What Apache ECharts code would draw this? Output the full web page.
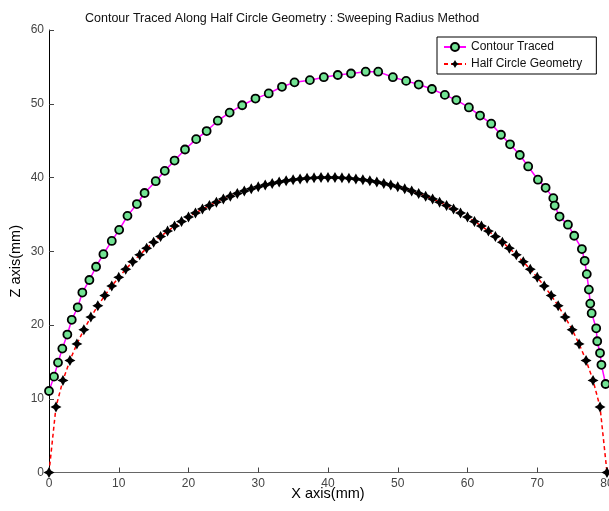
<!DOCTYPE html>
<html>
<head>
<meta charset="utf-8">
<title>Contour Traced</title>
<script src="https://cdn.jsdelivr.net/npm/echarts@6/dist/echarts.min.js"></script>
<style>
    html, body { margin: 0; padding: 0; background: #fff; }
    #main { width: 609px; height: 511px; }
</style>
</head>
<body>
<div id="main"></div>
<script>
// contour traced points (x, z)
var contourX = [0.0, 0.72, 1.29, 1.91, 2.63, 3.26, 4.12, 4.78, 5.79, 6.75, 7.8, 9.0, 10.06,
    11.25, 12.6, 13.7, 15.3, 16.6, 18.0, 19.5, 21.1, 22.6, 24.2, 25.9, 27.7, 29.6, 31.5,
    33.4, 35.2, 37.4, 39.4, 41.4, 43.3, 45.4, 47.2, 49.3, 51.2, 53.0, 54.9, 56.75, 58.4,
    60.2, 61.8, 63.4, 64.8, 66.1, 67.5, 68.7, 70.1, 71.2, 72.3, 72.5, 73.2, 74.4, 75.3,
    76.4, 76.8, 77.1, 77.4, 77.6, 77.8, 78.45, 78.6, 79.0, 79.2, 79.8];
var contourZ = [11.05, 13.0, 14.9, 16.8, 18.7, 20.7, 22.4, 24.4, 26.1, 27.9, 29.6, 31.4, 32.9,
    34.8, 36.4, 37.9, 39.5, 40.9, 42.3, 43.8, 45.2, 46.3, 47.7, 48.8, 49.8, 50.7, 51.4,
    52.3, 52.9, 53.2, 53.6, 53.9, 54.1, 54.35, 54.35, 53.6, 53.1, 52.6, 52.0, 51.2, 50.5,
    49.5, 48.4, 47.3, 45.8, 44.5, 43.05, 41.5, 39.7, 38.6, 37.2, 36.2, 34.7, 33.6, 32.1,
    30.3, 28.7, 26.9, 24.8, 22.9, 21.6, 19.55, 17.8, 16.2, 14.6, 12.0];

// half circle geometry, one point per mm of x
var circleX = [0, 1, 2, 3, 4, 5, 6, 7, 8, 9, 10, 11, 12, 13, 14, 15, 16, 17, 18, 19, 20,
    21, 22, 23, 24, 25, 26, 27, 28, 29, 30, 31, 32, 33, 34, 35, 36, 37, 38, 39, 40,
    41, 42, 43, 44, 45, 46, 47, 48, 49, 50, 51, 52, 53, 54, 55, 56, 57, 58, 59, 60,
    61, 62, 63, 64, 65, 66, 67, 68, 69, 70, 71, 72, 73, 74, 75, 76, 77, 78, 79, 80];
var circleZ = [0, 8.89, 12.49, 15.2, 17.44, 19.36, 21.07, 22.61, 24.0, 25.28, 26.46,
    27.55, 28.57, 29.51, 30.4, 31.22, 32.0, 32.73, 33.41, 34.04, 34.64,
    35.2, 35.72, 36.21, 36.66, 37.08, 37.47, 37.83, 38.16, 38.46, 38.73,
    38.97, 39.19, 39.38, 39.55, 39.69, 39.8, 39.89, 39.95, 39.99, 40.0,
    39.99, 39.95, 39.89, 39.8, 39.69, 39.55, 39.38, 39.19, 38.97, 38.73,
    38.46, 38.16, 37.83, 37.47, 37.08, 36.66, 36.21, 35.72, 35.2, 34.64,
    34.04, 33.41, 32.73, 32.0, 31.22, 30.4, 29.51, 28.57, 27.55, 26.46,
    25.28, 24.0, 22.61, 21.07, 19.36, 17.44, 15.2, 12.49, 8.89, 0];

var seriesNames = ['Contour Traced', 'Half Circle Geometry'];

function pairs(xs, ys) {
    var out = [];
    for (var i = 0; i < xs.length; i++) out.push([xs[i], ys[i]]);
    return out;
}

var starPath = 'path://M0,-10 L3.6,-3.6 L10,0 L3.6,3.6 L0,10 L-3.6,3.6 L-10,0 L-3.6,-3.6 Z';
var font = 'Liberation Sans, Arial, sans-serif';

var myChart = echarts.init(document.getElementById('main'));

var option = {
    animation: false,
    backgroundColor: '#fff',
    title: {
        text: 'Contour Traced Along Half Circle Geometry : Sweeping Radius Method',
        left: 80,
        top: 7,
        textStyle: { fontFamily: font, fontSize: 12.5, fontWeight: 'normal', color: '#111' }
    },
    legend: {
        orient: 'vertical',
        left: 437,
        top: 37,
        padding: [4, 14, 4, 6],
        itemGap: 5,
        itemWidth: 22,
        itemHeight: 10,
        borderColor: '#000',
        borderWidth: 1,
        borderRadius: 0,
        backgroundColor: '#fff',
        textStyle: { fontFamily: font, fontSize: 12, color: '#111' },
        data: seriesNames
    },
    grid: { left: 49, right: 2, top: 30, bottom: 38.5, outerBoundsMode: 'none' },
    xAxis: {
        type: 'value',
        min: 0, max: 80, interval: 10,
        name: 'X axis(mm)',
        nameLocation: 'middle',
        nameGap: 14,
        nameMoveOverlap: false,
        nameTextStyle: { fontFamily: font, fontSize: 14.5, color: '#000' },
        axisLine: { onZero: false, lineStyle: { color: '#666', width: 1 } },
        axisTick: { inside: true, length: 5, lineStyle: { color: '#444' } },
        axisLabel: { margin: 5, fontFamily: font, fontSize: 12, color: '#444' },
        splitLine: { show: false }
    },
    yAxis: {
        type: 'value',
        min: 0, max: 60, interval: 10,
        name: 'Z axis(mm)',
        nameLocation: 'middle',
        nameGap: 26,
        nameMoveOverlap: false,
        nameTextStyle: { fontFamily: font, fontSize: 14.5, color: '#000', padding: [0, 20, 0, 0] },
        axisLine: { onZero: false, lineStyle: { color: '#000', width: 1 } },
        axisTick: { inside: true, length: 5, lineStyle: { color: '#444' } },
        axisLabel: { margin: 5, fontFamily: font, fontSize: 12, color: '#444' },
        splitLine: { show: false }
    },
    series: [{
        name: seriesNames[0],
        type: 'line',
        data: pairs(contourX, contourZ),
        symbol: 'circle',
        symbolSize: 8,
        showAllSymbol: true,
        clip: false,
        z: 3,
        lineStyle: { color: '#ff00ff', width: 1.5 },
        itemStyle: { color: '#72e393', borderColor: '#000', borderWidth: 1.8 }
    }, {
        name: seriesNames[1],
        type: 'line',
        data: pairs(circleX, circleZ),
        symbol: starPath,
        symbolSize: 11,
        showAllSymbol: true,
        clip: false,
        z: 2,
        lineStyle: { color: '#ff0000', width: 1.5, type: [4, 3] },
        itemStyle: { color: '#000', borderWidth: 0 }
    }]
};

myChart.setOption(option);
</script>
</body>
</html>
